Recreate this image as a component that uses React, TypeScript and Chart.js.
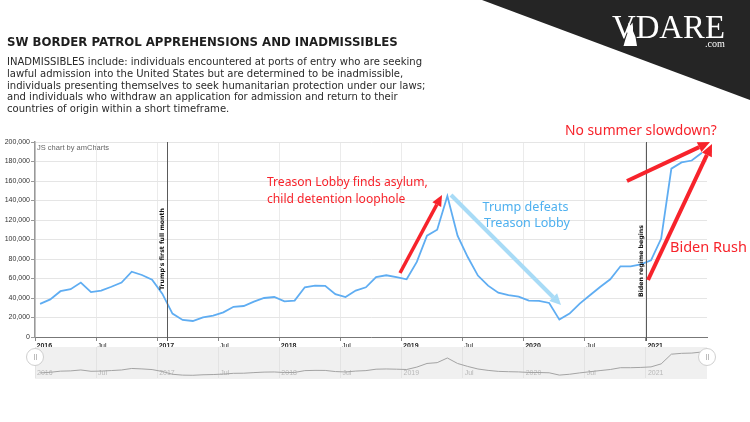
import React, { useEffect, useRef } from 'react';
import { Chart, registerables } from 'chart.js';

Chart.register(...registerables);

// ---------- DATA ----------
const monthLabels = [
  'Jan 2016', 'Feb 2016', 'Mar 2016', 'Apr 2016', 'May 2016', 'Jun 2016', 'Jul 2016', 'Aug 2016', 'Sep 2016', 'Oct 2016', 'Nov 2016', 'Dec 2016',
  'Jan 2017', 'Feb 2017', 'Mar 2017', 'Apr 2017', 'May 2017', 'Jun 2017', 'Jul 2017', 'Aug 2017', 'Sep 2017', 'Oct 2017', 'Nov 2017', 'Dec 2017',
  'Jan 2018', 'Feb 2018', 'Mar 2018', 'Apr 2018', 'May 2018', 'Jun 2018', 'Jul 2018', 'Aug 2018', 'Sep 2018', 'Oct 2018', 'Nov 2018', 'Dec 2018',
  'Jan 2019', 'Feb 2019', 'Mar 2019', 'Apr 2019', 'May 2019', 'Jun 2019', 'Jul 2019', 'Aug 2019', 'Sep 2019', 'Oct 2019', 'Nov 2019', 'Dec 2019',
  'Jan 2020', 'Feb 2020', 'Mar 2020', 'Apr 2020', 'May 2020', 'Jun 2020', 'Jul 2020', 'Aug 2020', 'Sep 2020', 'Oct 2020', 'Nov 2020', 'Dec 2020',
  'Jan 2021', 'Feb 2021', 'Mar 2021', 'Apr 2021', 'May 2021', 'Jun 2021',
];

const encounters = [
  34000, 38600, 47000, 49000, 55800, 46000, 47500, 51500, 55800, 67000, 63600, 58800,
  44500, 24000, 17500, 16400, 20200, 21900, 25300, 31000, 31800, 36300, 40000, 41000,
  36600, 37300, 51000, 52700, 52400, 44000, 41000, 47600, 51000, 61500, 63300, 61500,
  59200, 77000, 104000, 110000, 144600, 104000, 82000, 63000, 52700, 45500, 43000, 41400,
  37300, 37000, 34900, 17800, 24000, 34200, 42800, 51300, 59200, 72500, 72500, 74600,
  78700, 101000, 172700, 179000, 181000, 189000,
];

const xTickLabels = ['2016', 'Jul', '2017', 'Jul', '2018', 'Jul', '2019', 'Jul', '2020', 'Jul', '2021'];
const yTickValues = [0, 20000, 40000, 60000, 80000, 100000, 120000, 140000, 160000, 180000, 200000];

const guideMonths = [13, 60];
const guideLabels = ["Trump's first full month", 'Biden regime begins'];

const titleText = 'SW BORDER PATROL APPREHENSIONS AND INADMISSIBLES';
const descLines = [
  'INADMISSIBLES include: individuals encountered at ports of entry who are seeking',
  'lawful admission into the United States but are determined to be inadmissible,',
  'individuals presenting themselves to seek humanitarian protection under our laws;',
  'and individuals who withdraw an application for admission and return to their',
  'countries of origin within a short timeframe.',
];

// ---------- helpers ----------
function fitSize(ctx: CanvasRenderingContext2D, text: string, width: number, family: string, weight = 'normal') {
  ctx.font = `${weight} 100px ${family}`;
  const w = ctx.measureText(text).width;
  return (100 * width) / w;
}

function drawArrow(ctx: CanvasRenderingContext2D, x1: number, y1: number, x2: number, y2: number, color: string, lw: number, headLen: number, headW: number) {
  const ang = Math.atan2(y2 - y1, x2 - x1);
  const bx = x2 - headLen * Math.cos(ang);
  const by = y2 - headLen * Math.sin(ang);
  ctx.save();
  ctx.strokeStyle = color;
  ctx.lineWidth = lw;
  ctx.lineCap = 'butt';
  ctx.beginPath();
  ctx.moveTo(x1, y1);
  ctx.lineTo(bx, by);
  ctx.stroke();
  ctx.fillStyle = color;
  ctx.beginPath();
  ctx.moveTo(x2, y2);
  ctx.lineTo(bx + (headW / 2) * Math.sin(ang), by - (headW / 2) * Math.cos(ang));
  ctx.lineTo(bx - (headW / 2) * Math.sin(ang), by + (headW / 2) * Math.cos(ang));
  ctx.closePath();
  ctx.fill();
  ctx.restore();
}

const HAND = '"Noto Sans"';
const RED = '#f7232b';
const BLUE_TXT = '#4eb0ef';
const BLUE_ARROW = '#a8dbf6';

const headerPlugin = {
  id: 'header',
  beforeDraw(chart: any) {
    const ctx: CanvasRenderingContext2D = chart.ctx;
    ctx.save();
    ctx.fillStyle = '#ffffff';
    ctx.fillRect(0, 0, chart.width, chart.height);

    // logo corner
    ctx.fillStyle = '#252525';
    ctx.beginPath();
    ctx.moveTo(482, 0);
    ctx.lineTo(750, 0);
    ctx.lineTo(750, 100);
    ctx.closePath();
    ctx.fill();

    ctx.fillStyle = '#ffffff';
    ctx.textBaseline = 'alphabetic';
    ctx.textAlign = 'left';
    const ls = fitSize(ctx, 'VDARE', 113, '"Liberation Serif"');
    ctx.font = `normal ${ls}px "Liberation Serif"`;
    ctx.fillText('VDARE', 612, 38);
    // small sitting dog silhouette beside the V
    ctx.beginPath();
    ctx.moveTo(628, 27);
    ctx.lineTo(628.5, 22.5);
    ctx.lineTo(630.5, 25.5);
    ctx.lineTo(632.5, 22.5);
    ctx.lineTo(633, 27);
    ctx.lineTo(633, 31);
    ctx.lineTo(635.5, 37);
    ctx.lineTo(637, 46);
    ctx.lineTo(623.5, 46);
    ctx.lineTo(625.5, 39);
    ctx.lineTo(627.5, 33);
    ctx.lineTo(626, 31);
    ctx.closePath();
    ctx.fill();
    const cs = fitSize(ctx, '.com', 20, '"Liberation Serif"');
    ctx.font = `normal ${cs}px "Liberation Serif"`;
    ctx.fillText('.com', 705, 47);

    // title
    ctx.fillStyle = '#1e1e1e';
    const ts = fitSize(ctx, titleText, 391, '"DejaVu Sans"', 'bold');
    ctx.font = `bold ${ts}px "DejaVu Sans"`;
    ctx.fillText(titleText, 7, 45.7);

    // description
    ctx.fillStyle = '#2a2a2a';
    const ds = fitSize(ctx, descLines[1], 397, '"DejaVu Sans"');
    ctx.font = `normal ${ds}px "DejaVu Sans"`;
    descLines.forEach((l, i) => ctx.fillText(l, 7, 65 + i * 11.8));

    // credit
    ctx.fillStyle = '#666';
    ctx.font = 'normal 7.5px "Liberation Sans"';
    ctx.textBaseline = 'middle';
    ctx.fillText('JS chart by amCharts', 37, 147.5);
    ctx.restore();
  },
  afterDatasetsDraw(chart: any) {
    const ctx: CanvasRenderingContext2D = chart.ctx;
    const xs = chart.scales.x;
    const area = chart.chartArea;
    ctx.save();
    // guides
    const labelBottoms = [290, 297];
    const labelWidths = [82, 72];
    guideMonths.forEach((m, i) => {
      const px = Math.round(xs.getPixelForValue(m)) + 0.5;
      ctx.strokeStyle = '#5a5a5a';
      ctx.lineWidth = 1;
      ctx.beginPath();
      ctx.moveTo(px, area.top);
      ctx.lineTo(px, area.bottom + 4);
      ctx.stroke();
      ctx.save();
      ctx.translate(px - 5, labelBottoms[i]);
      ctx.rotate(-Math.PI / 2);
      const gs = fitSize(ctx, guideLabels[i], labelWidths[i], '"DejaVu Sans"', 'bold');
      ctx.font = `bold ${gs}px "DejaVu Sans"`;
      ctx.fillStyle = '#111';
      ctx.textAlign = 'left';
      ctx.textBaseline = 'middle';
      ctx.fillText(guideLabels[i], 0, 0);
      ctx.restore();
    });

    // annotations
    ctx.textBaseline = 'middle';
    ctx.textAlign = 'left';
    ctx.fillStyle = RED;
    let s = fitSize(ctx, 'Treason Lobby finds asylum,', 161, HAND);
    ctx.font = `normal ${s}px ${HAND}`;
    ctx.fillText('Treason Lobby finds asylum,', 267, 183);
    ctx.fillText('child detention loophole', 267, 200);

    drawArrow(ctx, 400, 273, 442, 195, RED, 3.5, 11, 10);

    drawArrow(ctx, 451, 195, 561, 305, BLUE_ARROW, 4, 11, 11);
    ctx.fillStyle = BLUE_TXT;
    ctx.textAlign = 'center';
    s = fitSize(ctx, 'Trump defeats', 86, HAND);
    ctx.font = `normal ${s}px ${HAND}`;
    ctx.fillText('Trump defeats', 525.5, 207);
    ctx.fillText('Treason Lobby', 527, 223);

    ctx.fillStyle = RED;
    ctx.textAlign = 'left';
    s = fitSize(ctx, 'No summer slowdown?', 152, HAND);
    ctx.font = `normal ${s}px ${HAND}`;
    ctx.fillText('No summer slowdown?', 565, 131);
    drawArrow(ctx, 627, 181, 710, 142, RED, 4, 12, 11);

    s = fitSize(ctx, 'Biden Rush', 77, HAND);
    ctx.font = `normal ${s}px ${HAND}`;
    ctx.fillText('Biden Rush', 670, 248);
    drawArrow(ctx, 648, 280, 712, 144, RED, 4, 12, 11);
    ctx.restore();
  },
};

const scrollerPlugin = {
  id: 'scroller',
  beforeDraw(chart: any) {
    const ctx: CanvasRenderingContext2D = chart.ctx;
    const a = chart.chartArea;
    ctx.save();
    ctx.fillStyle = '#f0f0f0';
    ctx.fillRect(a.left, 0, a.right - a.left, chart.height);
    ctx.restore();
  },
  beforeDatasetsDraw(chart: any) {
    const ctx: CanvasRenderingContext2D = chart.ctx;
    const xs = chart.scales.x;
    ctx.save();
    ctx.fillStyle = '#b8b8b8';
    ctx.font = 'normal 7px "Liberation Sans"';
    ctx.textBaseline = 'middle';
    ctx.textAlign = 'left';
    xTickLabels.forEach((l, k) => {
      ctx.fillText(l, xs.getPixelForValue(k * 6) + 2, 26);
    });
    ctx.restore();
  },
  afterDraw(chart: any) {
    const ctx: CanvasRenderingContext2D = chart.ctx;
    const a = chart.chartArea;
    ctx.save();
    [a.left, a.right].forEach((cx) => {
      ctx.fillStyle = '#ffffff';
      ctx.strokeStyle = '#cfcfcf';
      ctx.lineWidth = 1;
      ctx.beginPath();
      ctx.arc(cx, 10, 8.5, 0, Math.PI * 2);
      ctx.fill();
      ctx.stroke();
      ctx.strokeStyle = '#bdbdbd';
      ctx.beginPath();
      ctx.moveTo(cx - 0.5, 7);
      ctx.lineTo(cx - 0.5, 13);
      ctx.moveTo(cx + 1.5, 7);
      ctx.lineTo(cx + 1.5, 13);
      ctx.stroke();
    });
    ctx.restore();
  },
};

const points = encounters.map((v, i) => ({ x: i + 0.5, y: v }));

export default function App() {
  const mainRef = useRef<HTMLCanvasElement>(null);
  const miniRef = useRef<HTMLCanvasElement>(null);

  useEffect(() => {
    document.body.style.margin = '0';
    const main = new Chart(mainRef.current as HTMLCanvasElement, {
      type: 'line',
      data: {
        labels: monthLabels,
        datasets: [
          {
            label: 'SW border apprehensions and inadmissibles',
            data: points,
            borderColor: '#5fadf2',
            borderWidth: 1.8,
            pointRadius: 0,
            tension: 0,
            fill: false,
          },
        ],
      },
      options: {
        animation: false,
        responsive: false,
        maintainAspectRatio: false,
        devicePixelRatio: 1,
        layout: { padding: { left: 0, top: 142, right: 43, bottom: 65 } },
        plugins: { legend: { display: false }, tooltip: { enabled: false } },
        scales: {
          x: {
            type: 'linear',
            min: 0,
            max: 66,
            afterBuildTicks: (scale: any) => {
              scale.ticks = xTickLabels.map((_, k) => ({ value: k * 6 }));
            },
            afterFit: (scale: any) => {
              scale.height = 20;
            },
            border: { color: '#777', width: 1 },
            grid: { color: '#ebebeb', lineWidth: 1, tickLength: 4, tickColor: '#888' },
            ticks: {
              autoSkip: false,
              maxRotation: 0,
              align: 'start',
              labelOffset: 1.5,
              padding: 1,
              color: '#222',
              font: (c: any) => ({ family: '"Liberation Sans"', size: 7, weight: c.index % 2 === 0 ? 'bold' : 'normal' }),
              callback: (_v: any, idx: number) => xTickLabels[idx],
            },
          },
          y: {
            min: 0,
            max: 200000,
            afterBuildTicks: (scale: any) => {
              scale.ticks = yTickValues.map((v) => ({ value: v }));
            },
            afterFit: (scale: any) => {
              scale.width = 35;
            },
            border: { color: '#999', width: 1.5 },
            grid: { color: '#e5e5e5', lineWidth: 1, tickLength: 4, tickColor: '#999' },
            ticks: {
              padding: 1,
              color: '#333',
              font: { family: '"Liberation Sans"', size: 7 },
              callback: (v: any) => Number(v).toLocaleString('en-US'),
            },
          },
        },
      } as any,
      plugins: [headerPlugin],
    });

    const mini = new Chart(miniRef.current as HTMLCanvasElement, {
      type: 'line',
      data: {
        labels: monthLabels,
        datasets: [
          {
            data: points,
            borderColor: '#a3a3a3',
            borderWidth: 1,
            pointRadius: 0,
            tension: 0,
            fill: false,
          },
        ],
      },
      options: {
        animation: false,
        responsive: false,
        maintainAspectRatio: false,
        devicePixelRatio: 1,
        layout: { padding: { left: 35, top: 0, right: 43, bottom: 1.5 } },
        plugins: { legend: { display: false }, tooltip: { enabled: false } },
        scales: {
          x: {
            type: 'linear',
            min: 0,
            max: 66,
            afterBuildTicks: (scale: any) => {
              scale.ticks = xTickLabels.map((_, k) => ({ value: k * 6 }));
            },
            afterFit: (scale: any) => {
              scale.height = 0;
            },
            border: { display: false },
            grid: { color: '#e3e3e3', drawTicks: false },
            ticks: { display: false },
          },
          y: { display: false, min: 0, max: 226000 },
        },
      } as any,
      plugins: [scrollerPlugin],
    });

    return () => {
      main.destroy();
      mini.destroy();
    };
  }, []);

  return (
    <div style={{ position: 'absolute', left: 0, top: 0, width: 750, height: 422, background: '#fff' }}>
      <canvas ref={mainRef} width={750} height={422} style={{ position: 'absolute', left: 0, top: 0, width: 750, height: 422 }} />
      <canvas ref={miniRef} width={750} height={32} style={{ position: 'absolute', left: 0, top: 347, width: 750, height: 32 }} />
    </div>
  );
}
